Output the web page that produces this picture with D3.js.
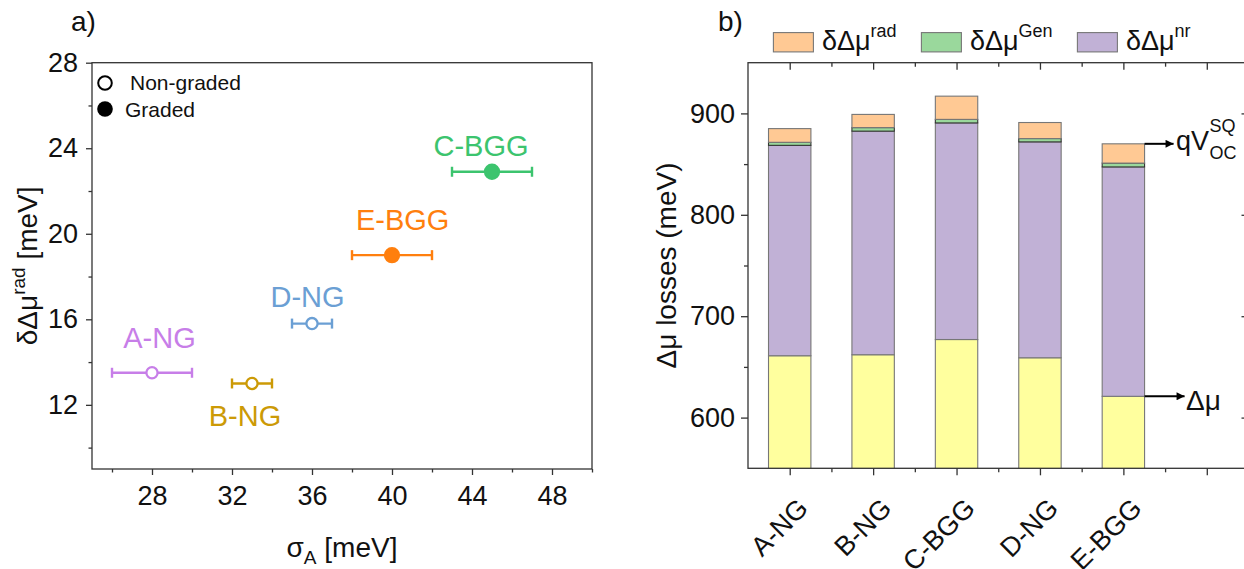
<!DOCTYPE html>
<html><head><meta charset="utf-8">
<script src="https://cdn.jsdelivr.net/npm/d3@7"></script>
<style>
body{margin:0;background:#fff;}
svg{display:block;font-family:"Liberation Sans",Arial,sans-serif;}
</style></head><body>
<svg id="fig" width="1244" height="569"></svg>
<script>
// ---- panel a: radiative loss vs. band-gap fluctuation ----
const samples = ["A-NG", "B-NG", "C-BGG", "D-NG", "E-BGG"];
const sigmaA = [28, 33, 45, 36, 40];          // meV
const sigmaErr = [2, 1, 2, 1, 2];             // meV
const radLoss = [13.5, 13.0, 22.9, 15.8, 19.0]; // meV
const graded = [false, false, true, false, true];
const sampleColors = ["#c77ee8", "#cc9a06", "#3cc46e", "#6b9fd4", "#ff7f0e"];
const xTicksA = [28, 32, 36, 40, 44, 48];
const yTicksA = [12, 16, 20, 24, 28];

// ---- panel b: loss budget per sample (meV) ----
const deltaMu = [661, 662, 677, 659, 621];
const nrLoss = [207.5, 220.5, 213.6, 212.9, 226.2];
const genLoss = [3.0, 3.5, 3.5, 3.3, 3.8];
// the radiative term on top of each bar is radLoss from panel a
const yTicksB = [600, 700, 800, 900];
const segmentNames = ["δΔμ", "δΔμ", "δΔμ"];
const segmentSups = ["rad", "Gen", "nr"];

const svg = d3.select("#fig");
const FONT = '"Liberation Sans",Arial,sans-serif';

// ================= panel a =================
const A = {x0: 92, x1: 592, y0: 62.7, y1: 469};
const xA = d3.scaleLinear().domain([25, 50]).range([A.x0, A.x1]);
const yA = d3.scaleLinear().domain([9, 28]).range([A.y1, A.y0]);

const gA = svg.append("g");
gA.append("rect").attr("x", A.x0).attr("y", A.y0)
  .attr("width", A.x1 - A.x0).attr("height", A.y1 - A.y0)
  .attr("fill", "none").attr("stroke", "#333").attr("stroke-width", 1.3);

function styleAxis(g, fs) {
  g.select(".domain").remove();
  g.selectAll(".tick line").attr("stroke", "#333").attr("stroke-width", 1.3);
  g.selectAll(".tick text").attr("font-size", fs).attr("font-family", FONT).attr("fill", "#111");
}

// minor ticks
gA.append("g").attr("transform", `translate(0,${A.y1})`)
  .call(d3.axisBottom(xA).tickValues(d3.range(26, 51, 4)).tickSize(3.5).tickFormat(""))
  .call(g => styleAxis(g, 0));
gA.append("g").attr("transform", `translate(${A.x0},0)`)
  .call(d3.axisLeft(yA).tickValues(d3.range(10, 27, 4)).tickSize(3.5).tickFormat(""))
  .call(g => styleAxis(g, 0));
// major ticks
gA.append("g").attr("transform", `translate(0,${A.y1})`)
  .call(d3.axisBottom(xA).tickValues(xTicksA).tickSize(6).tickPadding(11))
  .call(g => styleAxis(g, 27));
gA.append("g").attr("transform", `translate(${A.x0},0)`)
  .call(d3.axisLeft(yA).tickValues(yTicksA).tickSize(6).tickPadding(8))
  .call(g => styleAxis(g, 27));

// axis titles
const xtA = gA.append("text").attr("x", (A.x0 + A.x1) / 2).attr("y", 557)
  .attr("text-anchor", "middle").attr("font-size", 28).attr("fill", "#111");
xtA.append("tspan").text("σ");
xtA.append("tspan").attr("font-size", 19).attr("dy", 7).text("A");
xtA.append("tspan").attr("dy", -7).text(" [meV]");

const ytA = gA.append("text")
  .attr("transform", `translate(37,${(A.y0 + A.y1) / 2}) rotate(-90)`)
  .attr("text-anchor", "middle").attr("font-size", 28).attr("fill", "#111");
ytA.append("tspan").text("δΔμ");
ytA.append("tspan").attr("font-size", 19).attr("dy", -12).text("rad");
ytA.append("tspan").attr("dy", 12).text(" [meV]");

// panel tag
svg.append("text").attr("x", 71).attr("y", 31).attr("font-size", 28).attr("fill", "#111").text("a)");

// error bars and markers
const idx = d3.range(samples.length);
const capH = 5;
const eb = gA.append("g").selectAll("g").data(idx).join("g")
  .attr("stroke", i => sampleColors[i]).attr("stroke-width", 2.4);
eb.append("line")
  .attr("x1", i => xA(sigmaA[i] - sigmaErr[i])).attr("x2", i => xA(sigmaA[i] + sigmaErr[i]))
  .attr("y1", i => yA(radLoss[i])).attr("y2", i => yA(radLoss[i]));
eb.append("line")
  .attr("x1", i => xA(sigmaA[i] - sigmaErr[i])).attr("x2", i => xA(sigmaA[i] - sigmaErr[i]))
  .attr("y1", i => yA(radLoss[i]) - capH).attr("y2", i => yA(radLoss[i]) + capH);
eb.append("line")
  .attr("x1", i => xA(sigmaA[i] + sigmaErr[i])).attr("x2", i => xA(sigmaA[i] + sigmaErr[i]))
  .attr("y1", i => yA(radLoss[i]) - capH).attr("y2", i => yA(radLoss[i]) + capH);
gA.append("g").selectAll("circle").data(idx).join("circle")
  .attr("cx", i => xA(sigmaA[i])).attr("cy", i => yA(radLoss[i]))
  .attr("r", i => graded[i] ? 7 : 5.6)
  .attr("fill", i => graded[i] ? sampleColors[i] : "#fff")
  .attr("stroke", i => sampleColors[i]).attr("stroke-width", 2.3);

// sample labels, offset from each point
const labelOffset = {
  "A-NG": [7.5, -24.4], "B-NG": [-7, 42.5], "C-BGG": [-11, -15.7],
  "D-NG": [-4.5, -17], "E-BGG": [10.7, -24.8]
};
gA.append("g").selectAll("text").data(idx).join("text")
  .attr("x", i => xA(sigmaA[i]) + labelOffset[samples[i]][0])
  .attr("y", i => yA(radLoss[i]) + labelOffset[samples[i]][1])
  .attr("text-anchor", "middle").attr("font-size", 29)
  .attr("fill", i => sampleColors[i]).text(i => samples[i]);

// legend
const lgA = gA.append("g");
lgA.append("circle").attr("cx", 105).attr("cy", 83).attr("r", 6.8)
  .attr("fill", "#fff").attr("stroke", "#000").attr("stroke-width", 2);
lgA.append("text").attr("x", 130).attr("y", 90).attr("font-size", 21).attr("fill", "#111").text("Non-graded");
lgA.append("circle").attr("cx", 105).attr("cy", 109).attr("r", 7.8).attr("fill", "#000");
lgA.append("text").attr("x", 125).attr("y", 116.5).attr("font-size", 21).attr("fill", "#111").text("Graded");

// ================= panel b =================
const B = {x0: 748, x1: 1248.5, y0: 62.7, y1: 468.3};
const xB = d3.scaleLinear().domain([0.5, 6.5]).range([B.x0, B.x1]);
const yB = d3.scaleLinear().domain([550, 950]).range([B.y1, B.y0]);
const gB = svg.append("g");

svg.append("clipPath").attr("id", "clipB").append("rect")
  .attr("x", B.x0).attr("y", B.y0).attr("width", B.x1 - B.x0).attr("height", B.y1 - B.y0);

const segColors = ["#ffff9e", "#c1b1d6", "#9ad89c", "#ffc994"];
const stacks = idx.map(i => {
  const parts = [deltaMu[i], nrLoss[i], genLoss[i], radLoss[i]];
  let acc = 0;
  return parts.map((v, k) => { const s = {i, k, lo: acc, hi: acc + v}; acc += v; return s; });
});
const barW = 42.4;
gB.append("g").attr("clip-path", "url(#clipB)")
  .selectAll("rect").data(stacks.flat()).join("rect")
  .attr("x", d => xB(d.i + 1) - barW / 2).attr("width", barW)
  .attr("y", d => yB(d.hi)).attr("height", d => yB(d.lo) - yB(d.hi))
  .attr("fill", d => segColors[d.k])
  .attr("stroke", d => d.k === 2 ? "#333" : "#777").attr("stroke-width", 1.1);

// frame
gB.append("rect").attr("x", B.x0).attr("y", B.y0)
  .attr("width", B.x1 - B.x0).attr("height", B.y1 - B.y0)
  .attr("fill", "none").attr("stroke", "#333").attr("stroke-width", 1.3);

const catTicks = d3.range(1, 7);
const halfTicks = d3.range(1.5, 6.5, 1);
// bottom (outward) and top (inward) ticks
gB.append("g").attr("transform", `translate(0,${B.y1})`)
  .call(d3.axisBottom(xB).tickValues(halfTicks).tickSize(4).tickFormat(""))
  .call(g => styleAxis(g, 0));
gB.append("g").attr("transform", `translate(0,${B.y1})`)
  .call(d3.axisBottom(xB).tickValues(catTicks).tickSize(7).tickFormat(""))
  .call(g => styleAxis(g, 0));
gB.append("g").attr("transform", `translate(0,${B.y0})`)
  .call(d3.axisBottom(xB).tickValues(halfTicks).tickSize(4).tickFormat(""))
  .call(g => styleAxis(g, 0));
gB.append("g").attr("transform", `translate(0,${B.y0})`)
  .call(d3.axisBottom(xB).tickValues(catTicks).tickSize(7).tickFormat(""))
  .call(g => styleAxis(g, 0));
// left (outward) and right (inward) ticks
gB.append("g").attr("transform", `translate(${B.x0},0)`)
  .call(d3.axisLeft(yB).tickValues([650, 750, 850]).tickSize(4).tickFormat(""))
  .call(g => styleAxis(g, 0));
gB.append("g").attr("transform", `translate(${B.x0},0)`)
  .call(d3.axisLeft(yB).tickValues(yTicksB).tickSize(7).tickPadding(6))
  .call(g => styleAxis(g, 27));
gB.append("g").attr("transform", `translate(${B.x1},0)`)
  .call(d3.axisLeft(yB).tickValues([650, 750, 850]).tickSize(4).tickFormat(""))
  .call(g => styleAxis(g, 0));
gB.append("g").attr("transform", `translate(${B.x1},0)`)
  .call(d3.axisLeft(yB).tickValues(yTicksB).tickSize(7).tickFormat(""))
  .call(g => styleAxis(g, 0));

// rotated category labels
gB.append("g").selectAll("text").data(idx).join("text")
  .attr("transform", i => `translate(${xB(i + 1) + 20},510) rotate(-45)`)
  .attr("text-anchor", "end").attr("font-size", 27).attr("fill", "#111")
  .text(i => samples[i]);

// y title
gB.append("text")
  .attr("transform", `translate(676,${(B.y0 + B.y1) / 2}) rotate(-90)`)
  .attr("text-anchor", "middle").attr("font-size", 28).attr("fill", "#111")
  .text("Δμ losses (meV)");

svg.append("text").attr("x", 718).attr("y", 31).attr("font-size", 28).attr("fill", "#111").text("b)");

// legend across the top
const legColors = [segColors[3], segColors[2], segColors[1]];
const legX = [773.4, 921.4, 1077.4];
const lgB = svg.append("g");
legX.forEach((x, j) => {
  lgB.append("rect").attr("x", x).attr("y", 32.6).attr("width", 40).attr("height", 19.3)
    .attr("fill", legColors[j]).attr("stroke", "#777").attr("stroke-width", 1.1);
  const t = lgB.append("text").attr("x", x + 48.5).attr("y", 50)
    .attr("font-size", 27).attr("fill", "#111");
  t.append("tspan").text(segmentNames[j]);
  t.append("tspan").attr("font-size", 18).attr("dy", -13).text(segmentSups[j]);
});

// annotations on the last bar
svg.append("defs").append("marker").attr("id", "arrowHead")
  .attr("viewBox", "0 0 10 10").attr("refX", 10).attr("refY", 5)
  .attr("markerWidth", 8.5).attr("markerHeight", 4).attr("markerUnits", "strokeWidth")
  .attr("orient", "auto")
  .append("path").attr("d", "M0,0 L10,5 L0,10 Z").attr("fill", "#000");

const last = samples.length - 1;
const topLast = deltaMu[last] + nrLoss[last] + genLoss[last] + radLoss[last];
const xr = xB(last + 1) + barW / 2;
gB.append("line").attr("x1", xr).attr("x2", xr + 29)
  .attr("y1", yB(topLast)).attr("y2", yB(topLast))
  .attr("stroke", "#000").attr("stroke-width", 2).attr("marker-end", "url(#arrowHead)");
gB.append("line").attr("x1", xr).attr("x2", xr + 40)
  .attr("y1", yB(deltaMu[last])).attr("y2", yB(deltaMu[last]))
  .attr("stroke", "#000").attr("stroke-width", 2).attr("marker-end", "url(#arrowHead)");

const qv = gB.append("text").attr("x", 1176).attr("y", 150).attr("font-size", 27).attr("fill", "#111").text("qV");
const qvLen = qv.node().getComputedTextLength();
gB.append("text").attr("x", 1176 + qvLen + 0.5).attr("y", 131.5).attr("font-size", 18).attr("fill", "#111").text("SQ");
gB.append("text").attr("x", 1176 + qvLen + 0.5).attr("y", 159).attr("font-size", 18).attr("fill", "#111").text("OC");
gB.append("text").attr("x", 1186).attr("y", 409.5).attr("font-size", 28).attr("fill", "#111").text("Δμ");
</script>
</body></html>
